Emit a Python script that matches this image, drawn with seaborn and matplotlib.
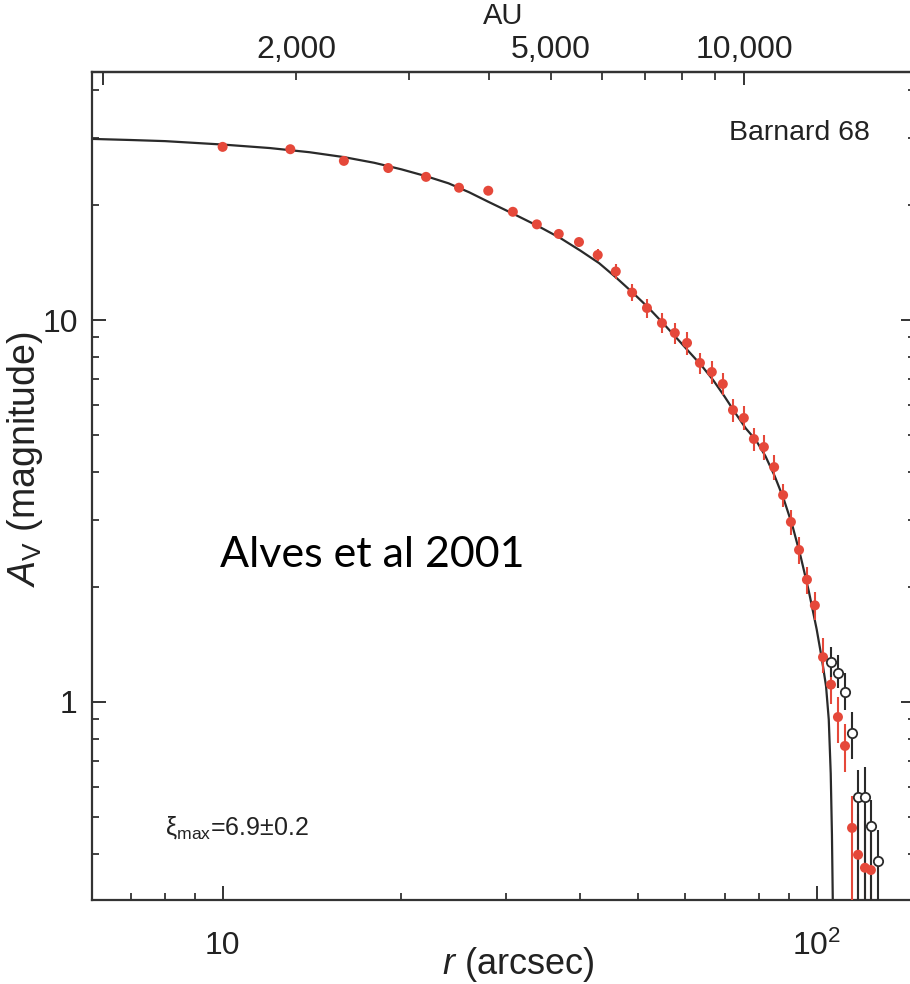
import numpy as np
import pandas as pd
import matplotlib
matplotlib.use("Agg")
import matplotlib.pyplot as plt
import seaborn as sns
from matplotlib.ticker import FixedLocator, FixedFormatter, NullFormatter

# ---------------- data ----------------
model_r = [6.0, 7.0, 8.0, 10.0, 12.0, 14.0, 16.0, 18.0, 20.0, 22.0, 24.0, 26.0,
           28.0, 31.0, 34.0, 37.0, 40.0, 43.0, 46.0, 49.0, 52.0, 55.0, 58.0,
           61.0, 64.0, 67.0, 70.0, 73.0, 76.0, 79.0, 82.0, 85.0, 88.0, 91.0,
           94.0, 97.0, 100.0, 102.0, 103.7, 104.8, 105.6, 106.1, 106.4, 106.6]
model_av = [29.8, 29.6, 29.4, 28.8, 28.2, 27.5, 26.7, 25.8, 24.8, 23.8, 22.8, 21.6,
            20.4, 18.9, 17.6, 16.4, 15.2, 14.1, 12.9, 11.8, 10.8, 9.85, 9.0,
            8.25, 7.6, 6.95, 6.3, 5.7, 5.2, 4.85, 4.4, 3.9, 3.4, 2.9,
            2.4, 1.95, 1.55, 1.3, 1.1, 0.9, 0.65, 0.45, 0.32, 0.25]

red_r = [10.0, 13.0, 16.0, 19.0, 22.0, 25.0, 28.0, 30.8, 33.8, 36.8, 39.8, 42.8,
         45.9, 48.9, 51.8, 54.9, 57.7, 60.5, 63.6, 66.6, 69.5, 72.3, 75.4, 78.4,
         81.5, 84.8, 87.8, 90.5, 93.4, 96.3, 99.3, 102.5, 105.7, 108.6, 111.6,
         114.7, 117.4, 120.6, 123.4]
red_av = [28.4, 28.0, 26.1, 25.0, 23.7, 22.2, 21.8, 19.2, 17.8, 16.8, 16.0, 14.8,
          13.4, 11.8, 10.75, 9.82, 9.25, 8.71, 7.72, 7.31, 6.80, 5.81, 5.54, 4.88,
          4.65, 4.12, 3.48, 2.96, 2.50, 2.09, 1.79, 1.31, 1.11, 0.913, 0.767,
          0.468, 0.398, 0.368, 0.363]
red_err_lo = [0.3, 0.3, 0.3, 0.3, 0.3, 0.3, 0.3, 0.4, 0.4, 0.4, 0.4, 0.5,
              0.6, 0.6, 0.6, 0.6, 0.6, 0.6, 0.5, 0.5, 0.45, 0.4, 0.4, 0.35,
              0.35, 0.3, 0.25, 0.22, 0.2, 0.17, 0.15, 0.12, 0.12, 0.13, 0.11,
              0.25, 0.25, 0.25, 0.25]
red_err_hi = [0.3, 0.3, 0.3, 0.3, 0.3, 0.3, 0.3, 0.4, 0.4, 0.4, 0.4, 0.5,
              0.6, 0.6, 0.6, 0.6, 0.6, 0.6, 0.5, 0.5, 0.45, 0.4, 0.4, 0.35,
              0.35, 0.3, 0.25, 0.22, 0.2, 0.17, 0.15, 0.16, 0.12, 0.12, 0.11,
              0.10, 0.11, 0.12, 0.12]

open_r = [105.7, 108.6, 111.6, 114.7, 117.4, 120.6, 123.4, 126.8]
open_av = [1.27, 1.19, 1.06, 0.83, 0.564, 0.564, 0.474, 0.383]
open_err_lo = [0.11, 0.10, 0.11, 0.12, 0.30, 0.30, 0.25, 0.20]
open_err_hi = [0.12, 0.14, 0.13, 0.11, 0.10, 0.11, 0.08, 0.08]

x_ticks = [10, 100]
x_ticklabels = ["10", r"$\mathregular{10^2}$"]
y_ticks = [1, 10]
y_ticklabels = ["1", "10"]
au_major = [1000, 10000]
au_major_labels = ["", "10,000"]
au_minor = [2000, 3000, 4000, 5000, 6000, 7000, 8000, 9000]
au_minor_labels = ["2,000", "", "", "5,000", "", "", "", ""]

# top-axis mapping as drawn in the reference (AU vs arcsec)
AU0, R0, PWR = 1000.0, 6.29, 0.9266

RED = "#e5483a"
DARK = "#2a2a2a"
TXT = "#222222"

# ---------------- style ----------------
sns.set_theme(style="ticks")
plt.rcParams["font.family"] = ["Liberation Sans Narrow", "Liberation Sans", "DejaVu Sans"]
plt.rcParams["mathtext.fontset"] = "custom"
plt.rcParams["mathtext.rm"] = "Liberation Sans"
plt.rcParams["mathtext.it"] = "Liberation Sans:italic"
plt.rcParams["mathtext.sf"] = "Liberation Sans"

W, H, DPI = 910, 984, 100
fig = plt.figure(figsize=(W / DPI, H / DPI), dpi=DPI)
L_px, R_px, T_px, B_px = 91.7, 915.0, 72.0, 900.0
ax = fig.add_axes([L_px / W, 1 - B_px / H, (R_px - L_px) / W, (B_px - T_px) / H])
ax.set_xscale("log")
ax.set_yscale("log")

model_df = pd.DataFrame({"r": model_r, "Av": model_av})
sns.lineplot(data=model_df, x="r", y="Av", ax=ax, color=DARK, lw=1.6, sort=False,
             zorder=2)

ax.errorbar(red_r, red_av, yerr=[red_err_lo, red_err_hi], fmt="none",
            ecolor=RED, elinewidth=1.5, capsize=0, zorder=3)
sns.scatterplot(x=red_r, y=red_av, ax=ax, color=RED, s=52, edgecolor="none",
                zorder=4)

ax.errorbar(open_r, open_av, yerr=[open_err_lo, open_err_hi], fmt="none",
            ecolor=DARK, elinewidth=1.5, capsize=0, zorder=3)
sns.scatterplot(x=open_r, y=open_av, ax=ax, facecolor="white", edgecolor=DARK,
                linewidth=1.3, s=45, zorder=5)

ax.set_xlim(6.02, 146.4)
ax.set_ylim(0.303, 44.6)

for sp in ax.spines.values():
    sp.set_linewidth(1.6)
    sp.set_color("#333333")

TICK_FS = 23
ax.xaxis.set_major_locator(FixedLocator(x_ticks))
ax.xaxis.set_major_formatter(FixedFormatter(x_ticklabels))
ax.xaxis.set_minor_formatter(NullFormatter())
ax.yaxis.set_major_locator(FixedLocator(y_ticks))
ax.yaxis.set_major_formatter(FixedFormatter(y_ticklabels))
ax.yaxis.set_minor_formatter(NullFormatter())
ax.tick_params(which="both", direction="in", top=False, right=True,
               color="#333333", labelsize=TICK_FS, labelcolor=TXT)
ax.tick_params(which="major", length=10, width=1.4)
ax.tick_params(which="minor", length=5, width=1.3)
ax.tick_params(axis="x", which="major", pad=22)
ax.tick_params(axis="y", which="major", pad=10)

ax.set_xlabel(r"$\mathit{r}$ (arcsec)", fontsize=26, color=TXT)
ax.set_ylabel(r"$\mathit{A}_{\mathrm{V}}$ (magnitude)", fontsize=27, color=TXT)
ax.xaxis.set_label_coords(0.518, -0.054)
ax.yaxis.set_label_coords(-0.057, 0.533)


def r_to_au(r):
    r = np.maximum(np.asarray(r, dtype=float), 1e-9)
    return AU0 * (r / R0) ** PWR


def au_to_r(au):
    au = np.maximum(np.asarray(au, dtype=float), 1e-9)
    return R0 * (au / AU0) ** (1.0 / PWR)


sec = ax.secondary_xaxis("top", functions=(r_to_au, au_to_r))
sec.xaxis.set_major_locator(FixedLocator(au_major))
sec.xaxis.set_major_formatter(FixedFormatter(au_major_labels))
sec.xaxis.set_minor_locator(FixedLocator(au_minor))
sec.xaxis.set_minor_formatter(FixedFormatter(au_minor_labels))
sec.tick_params(which="both", direction="in", color="#333333",
                labelsize=TICK_FS, labelcolor=TXT, pad=5)
sec.tick_params(which="major", length=9, width=1.4)
sec.tick_params(which="minor", length=6, width=1.3)
sec.spines["top"].set_linewidth(1.6)
sec.spines["top"].set_color("#333333")

fig.text(503 / W, 1 - 2 / H, "AU", ha="center", va="top", fontsize=21, color=TXT)

ax.text(0.945, 0.926, "Barnard 68", transform=ax.transAxes, ha="right",
        va="center", fontsize=20.5, color=TXT)
ax.text(0.156, 0.417, "Alves et al 2001", transform=ax.transAxes, ha="left",
        va="center", fontsize=31, color="black", family=["Lato", "DejaVu Sans"])
ax.text(0.089, 0.087, r"$\mathsf{\xi}_{\mathrm{max}}$=6.9±0.2",
        transform=ax.transAxes, ha="left", va="center", fontsize=18,
        color=TXT)

fig.savefig("out.png", dpi=DPI)
